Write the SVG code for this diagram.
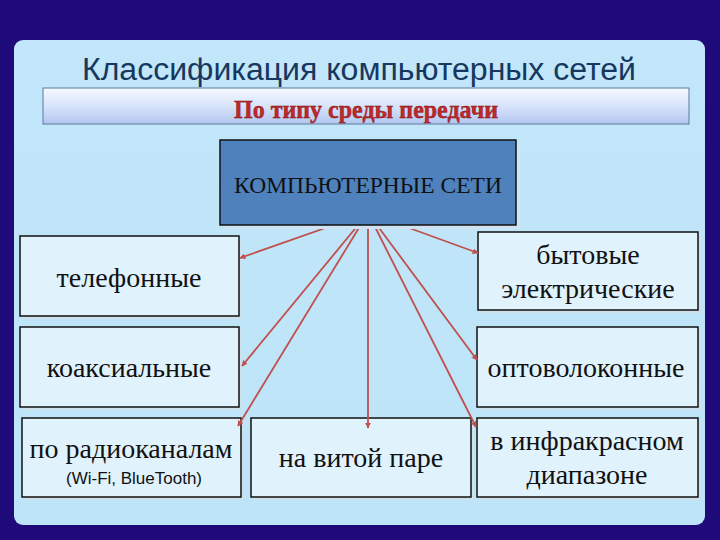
<svg xmlns="http://www.w3.org/2000/svg" width="720" height="540" viewBox="0 0 720 540">
<defs>
<linearGradient id="panelG" x1="0" y1="0" x2="0" y2="1">
<stop offset="0" stop-color="#c2e6fa"/>
<stop offset="1" stop-color="#bde4f8"/>
</linearGradient>
<linearGradient id="barG" x1="0" y1="0" x2="0" y2="1">
<stop offset="0" stop-color="#f6f9ff"/>
<stop offset="0.5" stop-color="#d8e4fa"/>
<stop offset="1" stop-color="#b2c6f0"/>
</linearGradient>
<marker id="arr" viewBox="0 0 10 10" refX="9" refY="5" markerWidth="6" markerHeight="6" orient="auto" markerUnits="userSpaceOnUse">
<path d="M0,0 L10,5 L0,10 z" fill="#c0504d"/>
</marker>
<style>
.box{fill:#e0f2fc;stroke:#111;stroke-width:1.5}
.shadow{fill:#cfe0ea}
.lbl{font-family:"Liberation Serif","Times New Roman",serif;font-size:28px;fill:#111;text-anchor:middle}
.con{stroke:#c0504d;stroke-width:1.8;fill:none;marker-end:url(#arr)}
</style>
</defs>
<rect x="0" y="0" width="720" height="540" fill="#1e0a78"/>
<rect x="14" y="40" width="691" height="485" rx="9" fill="url(#panelG)"/>
<text x="359" y="80" font-family="'Liberation Sans',Arial,sans-serif" font-size="31" fill="#17375e" text-anchor="middle" textLength="554" lengthAdjust="spacingAndGlyphs">Классификация компьютерных сетей</text>
<g id="subtitle">
<rect x="43" y="88" width="646" height="36" fill="url(#barG)" stroke="#5a7aa0" stroke-width="1"/>
<text x="366" y="118" font-family="'Liberation Serif','Times New Roman',serif" font-weight="bold" font-size="26" fill="#c0282a" stroke="#7a1010" stroke-width="0.4" text-anchor="middle" textLength="264" lengthAdjust="spacingAndGlyphs">По типу среды передачи</text>
</g>
<g id="n-phone">
<rect class="shadow" x="23" y="239" width="219" height="80"/>
<rect class="box" x="20" y="236" width="219" height="80"/>
<text class="lbl" x="129" y="287">телефонные</text>
</g>
<g id="n-coax">
<rect class="shadow" x="23" y="330" width="219" height="80"/>
<rect class="box" x="20" y="327" width="219" height="80"/>
<text class="lbl" x="129" y="377">коаксиальные</text>
</g>
<g id="n-radio">
<rect class="shadow" x="25" y="421" width="219" height="79"/>
<rect class="box" x="22" y="418" width="219" height="79"/>
<text class="lbl" x="131" y="458">по радиоканалам</text>
<text x="134" y="484" font-family="'Liberation Sans',Arial,sans-serif" font-size="17" fill="#111" text-anchor="middle">(Wi-Fi, BlueTooth)</text>
</g>
<g id="n-twisted">
<rect class="shadow" x="254" y="421" width="220" height="79"/>
<rect class="box" x="251" y="418" width="220" height="79"/>
<text class="lbl" x="361" y="467">на витой паре</text>
</g>
<g id="n-power">
<rect class="shadow" x="481" y="235" width="220" height="78"/>
<rect class="box" x="478" y="232" width="220" height="78"/>
<text class="lbl" x="588" y="264">бытовые</text>
<text class="lbl" x="588" y="298">электрические</text>
</g>
<g id="n-fiber">
<rect class="shadow" x="480" y="330" width="221" height="80"/>
<rect class="box" x="477" y="327" width="221" height="80"/>
<text class="lbl" x="586" y="377">оптоволоконные</text>
</g>
<g id="n-ir">
<rect class="shadow" x="480" y="421" width="221" height="79"/>
<rect class="box" x="477" y="418" width="221" height="79"/>
<text class="lbl" x="587" y="450">в инфракрасном</text>
<text class="lbl" x="587" y="484">диапазоне</text>
</g>
<g id="connectors">
<line class="con" x1="368" y1="213" x2="240" y2="258"/>
<line class="con" x1="368" y1="213" x2="478" y2="253"/>
<line class="con" x1="368" y1="213" x2="242" y2="366"/>
<line class="con" x1="368" y1="213" x2="238" y2="426"/>
<line class="con" x1="368" y1="213" x2="368" y2="428"/>
<line class="con" x1="368" y1="213" x2="477" y2="360"/>
<line class="con" x1="368" y1="213" x2="476" y2="427"/>
</g>
<g id="root">
<rect x="224" y="144" width="296" height="85" fill="#cfe3f0"/>
<rect x="220" y="140" width="296" height="85" fill="#4f81bd" stroke="#111" stroke-width="1.5"/>
<text x="368" y="193" font-family="'Liberation Serif','Times New Roman',serif" font-size="23.5" fill="#111" text-anchor="middle">КОМПЬЮТЕРНЫЕ СЕТИ</text>
</g>
</svg>
